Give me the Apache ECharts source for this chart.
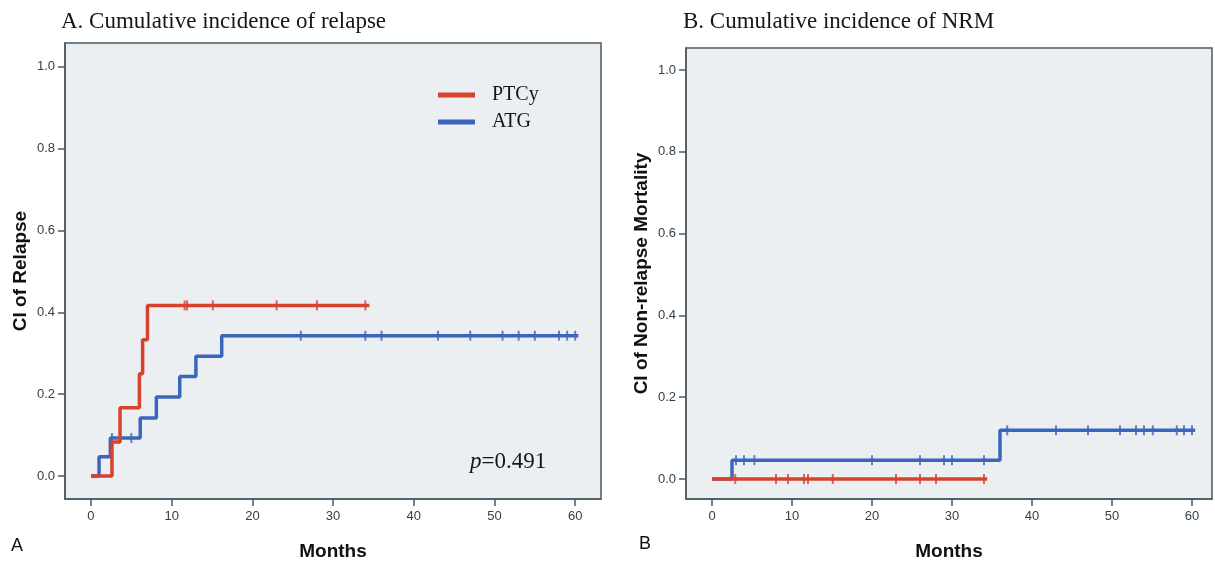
<!DOCTYPE html>
<html>
<head>
<meta charset="utf-8">
<script src="https://cdn.jsdelivr.net/npm/echarts@6/dist/echarts.min.js"></script>
<style>
  html, body { margin: 0; padding: 0; background: #fff; }
  #chart { width: 1215px; height: 562px; }
</style>
</head>
<body>
<div id="chart"></div>
<script>
// tick labels
var monthTicks = [0, 10, 20, 30, 40, 50, 60];
var ciTicks = [0, 0.2, 0.4, 0.6, 0.8, 1.0];

// A. relapse - step curves (event time, CI after event)
var relapseMonthsPTCy = [0, 2.6, 3.6, 6.0, 6.4, 7.0, 34.5];
var relapseCIPTCy = [0, 0.083, 0.167, 0.25, 0.333, 0.417, 0.417];
var relapseCensorPTCy = [11.6, 11.9, 15.1, 23.0, 28.0, 34.0];

var relapseMonthsATG = [0, 1.0, 2.4, 6.1, 8.1, 11.0, 13.0, 16.2, 60.4];
var relapseCIATG = [0, 0.047, 0.093, 0.142, 0.193, 0.243, 0.293, 0.343, 0.343];
var relapseCensorATG = [2.6, 5.0, 26.0, 34.0, 36.0, 43.0, 47.0, 51.0, 53.0, 55.0, 58.0, 59.0, 60.0];

// B. NRM
var nrmMonthsPTCy = [0, 34.4];
var nrmCIPTCy = [0, 0];
var nrmCensorPTCy = [2.9, 8.0, 9.5, 11.5, 12.0, 15.1, 23.0, 26.0, 28.0, 34.0];

var nrmMonthsATG = [0, 2.5, 36.0, 60.4];
var nrmCIATG = [0, 0.046, 0.119, 0.119];
var nrmCensorATG = [3.0, 4.0, 5.3, 20.0, 26.0, 29.0, 30.0, 34.0, 36.9, 43.0, 47.0, 51.0, 53.0, 54.0, 55.1, 58.1, 59.0, 60.0];

var RED = '#d8412e';
var BLUE = '#3a67bd';
var AXIS = '#4b5961';

function pairs(xs, ys) {
  return xs.map(function (x, i) { return [x, ys[i]]; });
}
// level of the step curve at time t
function levelAt(xs, ys, t) {
  var v = ys[0];
  for (var i = 0; i < xs.length; i++) {
    if (xs[i] <= t) v = ys[i];
  }
  return v;
}
function censorPts(times, xs, ys) {
  return times.map(function (t) { return [t, levelAt(xs, ys, t)]; });
}

function stepLine(name, color, data, idx) {
  return {
    name: name,
    type: 'line',
    step: 'end',
    xAxisIndex: idx,
    yAxisIndex: idx,
    showSymbol: false,
    lineStyle: { color: color, width: 3.5 },
    itemStyle: { color: color },
    data: data
  };
}
function censorMarks(color, data, idx) {
  return {
    name: 'censor',
    type: 'scatter',
    xAxisIndex: idx,
    yAxisIndex: idx,
    symbol: 'rect',
    symbolSize: [2, 10],
    itemStyle: { color: color },
    data: data
  };
}

function xAxisOf(idx, min, max) {
  return {
    type: 'value',
    gridIndex: idx,
    min: min,
    max: max,
    name: 'Months',
    nameLocation: 'middle',
    nameGap: 43,
    nameTextStyle: { fontFamily: 'Liberation Sans', fontWeight: 'bold', fontSize: 19, color: '#111' },
    splitLine: { show: false },
    axisLine: { show: true, onZero: false, lineStyle: { color: AXIS, width: 1.5 } },
    axisTick: { show: true, length: 7, customValues: monthTicks, lineStyle: { color: AXIS, width: 1.5 } },
    axisLabel: { customValues: monthTicks, margin: 11, fontFamily: 'Liberation Sans', fontSize: 13, color: '#33404a' }
  };
}
function yAxisOf(idx, min, max, name) {
  return {
    type: 'value',
    gridIndex: idx,
    min: min,
    max: max,
    name: name,
    nameLocation: 'middle',
    nameGap: 35,
    nameTextStyle: { fontFamily: 'Liberation Sans', fontWeight: 'bold', fontSize: 19, color: '#111' },
    splitLine: { show: false },
    axisLine: { show: true, onZero: false, lineStyle: { color: AXIS, width: 1.5 } },
    axisTick: { show: true, length: 7, customValues: ciTicks, lineStyle: { color: AXIS, width: 1.5 } },
    axisLabel: {
      customValues: ciTicks, margin: 10, fontFamily: 'Liberation Sans', fontSize: 13, color: '#33404a',
      formatter: function (v) { return v.toFixed(1); }
    }
  };
}

var chart = echarts.init(document.getElementById('chart'));

var option = {
  animation: false,
  backgroundColor: '#fff',
  title: [
    { text: 'A. Cumulative incidence of relapse', left: 56, top: 5,
      textStyle: { fontFamily: 'Liberation Serif', fontWeight: 'normal', fontSize: 23, color: '#151515' } },
    { text: 'B. Cumulative incidence of NRM', left: 678, top: 5,
      textStyle: { fontFamily: 'Liberation Serif', fontWeight: 'normal', fontSize: 23, color: '#151515' } }
  ],
  legend: {
    data: ['PTCy', 'ATG'],
    orient: 'vertical',
    left: 438,
    top: 85,
    padding: 0,
    icon: 'rect',
    itemWidth: 37,
    itemHeight: 5,
    itemGap: 7,
    textStyle: { fontFamily: 'Liberation Serif', fontSize: 20, color: '#151515', padding: [0, 0, 0, 12] }
  },
  grid: [
    { left: 65, top: 43, width: 536, height: 456, outerBoundsMode: 'none', show: true,
      backgroundColor: '#eceff1', borderColor: AXIS, borderWidth: 1.5 },
    { left: 686, top: 48, width: 526, height: 451, outerBoundsMode: 'none', show: true,
      backgroundColor: '#eceff1', borderColor: AXIS, borderWidth: 1.5 }
  ],
  xAxis: [xAxisOf(0, -3.22, 63.2), xAxisOf(1, -3.25, 62.5)],
  yAxis: [yAxisOf(0, -0.056, 1.058, 'CI of Relapse'), yAxisOf(1, -0.049, 1.054, 'CI of Non-relapse Mortality')],
  graphic: [
    { type: 'text', left: 470, top: 450,
      style: { text: '{i|p}=0.491', fontFamily: 'Liberation Serif', fontSize: 23, fill: '#151515',
        rich: { i: { fontFamily: 'Liberation Serif', fontStyle: 'italic', fontSize: 23 } } } },
    { type: 'text', left: 11, top: 537, style: { text: 'A', fontFamily: 'Liberation Sans', fontSize: 18, fill: '#111' } },
    { type: 'text', left: 639, top: 535, style: { text: 'B', fontFamily: 'Liberation Sans', fontSize: 18, fill: '#111' } }
  ],
  series: [
    stepLine('ATG', BLUE, pairs(relapseMonthsATG, relapseCIATG), 0),
    censorMarks(BLUE, censorPts(relapseCensorATG, relapseMonthsATG, relapseCIATG), 0),
    stepLine('PTCy', RED, pairs(relapseMonthsPTCy, relapseCIPTCy), 0),
    censorMarks(RED, censorPts(relapseCensorPTCy, relapseMonthsPTCy, relapseCIPTCy), 0),
    stepLine('ATG', BLUE, pairs(nrmMonthsATG, nrmCIATG), 1),
    censorMarks(BLUE, censorPts(nrmCensorATG, nrmMonthsATG, nrmCIATG), 1),
    stepLine('PTCy', RED, pairs(nrmMonthsPTCy, nrmCIPTCy), 1),
    censorMarks(RED, censorPts(nrmCensorPTCy, nrmMonthsPTCy, nrmCIPTCy), 1)
  ]
};

chart.setOption(option);
</script>
</body>
</html>
